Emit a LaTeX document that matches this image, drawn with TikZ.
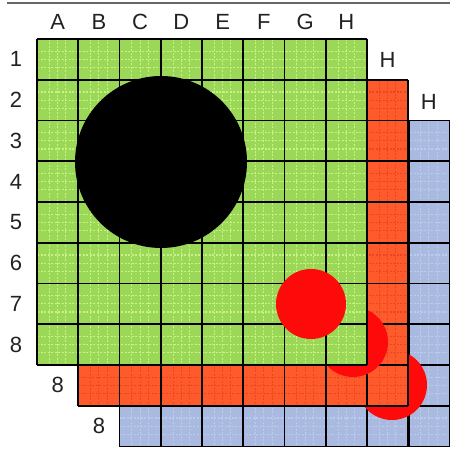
\documentclass[tikz,border=0pt]{standalone}
\usepackage{fontspec}
\setmainfont{Liberation Sans}
\definecolor{gfill}{HTML}{9CD858}
\definecolor{gtex}{HTML}{C8F284}
\definecolor{rfill}{HTML}{FF5A2C}
\definecolor{rtex}{HTML}{E8481E}
\definecolor{bfill}{HTML}{A9B9E0}
\definecolor{btex}{HTML}{BCCAEC}
\definecolor{dotred}{HTML}{FF0A0A}
\definecolor{labelgray}{HTML}{222222}
\begin{document}
\begin{tikzpicture}[x=1pt,y=-1pt,
  gridline/.style={black,line width=1.7pt},
  texline/.style={line width=1.1pt,dash pattern=on 2pt off 1.5pt},
  lbl/.style={font=\fontsize{22}{22}\selectfont,text=labelgray,inner sep=0pt},
  reddot/.style={fill=dotred}]
\useasboundingbox (0,0) rectangle (450,449);
\def\ox{37}\def\oy{39}\def\sx{41.25}\def\sy{40.75}
% top rule
\draw[gray!80!black,line width=1.5pt] (7,3) -- (450,3);
% layer macro: #1 offset in cells, #2 fill colour, #3 texture colour
\newcommand\gridlayer[3]{%
  \fill[#2] (\ox+#1*\sx,\oy+#1*\sy) rectangle ++(8*\sx,8*\sy);
  \foreach \i in {0,...,7}{%
    \foreach \t in {0.3,0.5,0.7}{%
      \draw[texline,#3] (\ox+#1*\sx+\i*\sx+\t*\sx,\oy+#1*\sy) -- ++(0,8*\sy);
      \draw[texline,#3] (\ox+#1*\sx,\oy+#1*\sy+\i*\sy+\t*\sy) -- ++(8*\sx,0);
    }%
  }%
  \foreach \i in {0,...,8}{%
    \draw[gridline] (\ox+#1*\sx+\i*\sx,\oy+#1*\sy) -- ++(0,8*\sy);
    \draw[gridline] (\ox+#1*\sx,\oy+#1*\sy+\i*\sy) -- ++(8*\sx,0);
  }%
}
% blue layer
\gridlayer{2}{bfill}{btex}
\draw[black,line width=2.8pt] (\ox+9*\sx,\oy+2*\sy) -- ++(0,8*\sy);
\fill[reddot] (392,385) circle (35);
% red layer
\gridlayer{1}{rfill}{rtex}
\fill[reddot] (353,342) circle (35);
% green layer
\gridlayer{0}{gfill}{gtex}
% black and red dots
\fill[black] (161,162) circle (86);
\fill[reddot] (311,304) circle (35);
% column labels
\foreach \c [count=\j] in {A,B,C,D,E,F,G,H}
  \node[lbl] (col\c) at (\ox+\sx*\j-\sx/2,22) {\c};
% row labels
\foreach \r in {1,...,8}
  \node[lbl] (row\r) at (16,\oy+\sy*\r-\sy/2) {\r};
\node[lbl] (redH) at (\ox+8.5*\sx,60) {H};
\node[lbl] (blueH) at (\ox+9.5*\sx,102) {H};
\node[lbl] (red8) at (\ox+0.5*\sx,\oy+8.5*\sy) {8};
\node[lbl] (blue8) at (\ox+1.5*\sx,\oy+9.5*\sy) {8};
\end{tikzpicture}
\end{document}
